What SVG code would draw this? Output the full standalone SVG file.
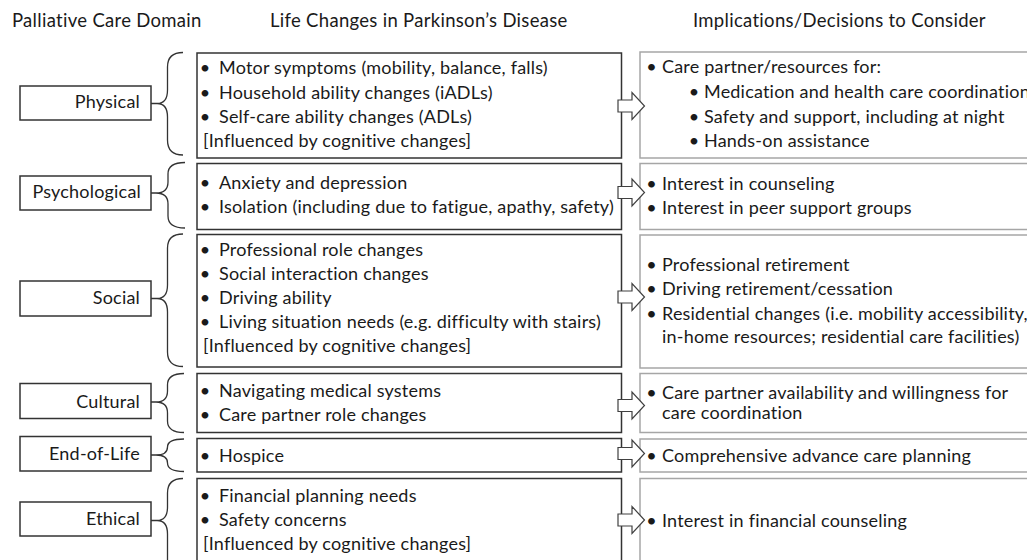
<svg xmlns="http://www.w3.org/2000/svg" width="1027" height="560" viewBox="0 0 1027 560">
<style>
text{font-family:Lato,"Liberation Sans",sans-serif;font-size:18px;letter-spacing:0.2px;fill:#1a1a1a}
.hd{font-size:18.5px;letter-spacing:0.3px}
.lbl{text-anchor:end}
.b{text-anchor:middle;letter-spacing:0}
.lbox{fill:#fff;stroke:#333;stroke-width:1.5}
.mbox{fill:#fff;stroke:#333;stroke-width:1.5}
.rbox{fill:#fff;stroke:#a6a6a6;stroke-width:1.5}
.brace{fill:none;stroke:#333;stroke-width:1.3}
.arr{fill:#fff;stroke:#404040;stroke-width:1.2}
</style>
<rect width="1027" height="560" fill="#fff"/>
<g id="headers">
<text class="hd" x="12" y="27">Palliative Care Domain</text>
<text class="hd" x="270" y="27">Life Changes in Parkinson’s Disease</text>
<text class="hd" x="693" y="27">Implications/Decisions to Consider</text>
</g>
<g id="physical">
<rect class="lbox" x="20" y="86" width="131" height="34"/>
<text class="lbl" x="140" y="108">Physical</text>
<rect class="mbox" x="197" y="53" width="424.5" height="105"/>
<text class="b" x="205" y="74">•</text><text x="219" y="74">Motor symptoms (mobility, balance, falls)</text>
<text class="b" x="205" y="98.5">•</text><text x="219" y="98.5">Household ability changes (iADLs)</text>
<text class="b" x="205" y="123">•</text><text x="219" y="123">Self-care ability changes (ADLs)</text>
<text x="203" y="147">[Influenced by cognitive changes]</text>
<rect class="rbox" x="640" y="52" width="400" height="106"/>
<text class="b" x="651.5" y="73">•</text><text x="662" y="73">Care partner/resources for:</text>
<text class="b" x="694" y="98">•</text><text x="704" y="98">Medication and health care coordination</text>
<text class="b" x="694" y="122.5">•</text><text x="704" y="122.5">Safety and support, including at night</text>
<text class="b" x="694" y="146.5">•</text><text x="704" y="146.5">Hands-on assistance</text>
</g>
<g id="psychological">
<rect class="lbox" x="20" y="176" width="131" height="34"/>
<text class="lbl" x="141" y="198">Psychological</text>
<rect class="mbox" x="197" y="163.5" width="424.5" height="66"/>
<text class="b" x="205" y="189">•</text><text x="219" y="189">Anxiety and depression</text>
<text class="b" x="205" y="213">•</text><text x="219" y="213">Isolation (including due to fatigue, apathy, safety)</text>
<rect class="rbox" x="640" y="163.5" width="400" height="66"/>
<text class="b" x="651.5" y="190">•</text><text x="662" y="190">Interest in counseling</text>
<text class="b" x="651.5" y="214">•</text><text x="662" y="214">Interest in peer support groups</text>
</g>
<g id="social">
<rect class="lbox" x="20" y="281" width="131" height="35"/>
<text class="lbl" x="140" y="304">Social</text>
<rect class="mbox" x="197" y="234.5" width="424.5" height="132.5"/>
<text class="b" x="205" y="256">•</text><text x="219" y="256">Professional role changes</text>
<text class="b" x="205" y="280">•</text><text x="219" y="280">Social interaction changes</text>
<text class="b" x="205" y="304">•</text><text x="219" y="304">Driving ability</text>
<text class="b" x="205" y="328">•</text><text x="219" y="328">Living situation needs (e.g. difficulty with stairs)</text>
<text x="203" y="352">[Influenced by cognitive changes]</text>
<rect class="rbox" x="640" y="235" width="400" height="133"/>
<text class="b" x="651.5" y="271">•</text><text x="662" y="271">Professional retirement</text>
<text class="b" x="651.5" y="295">•</text><text x="662" y="295">Driving retirement/cessation</text>
<text class="b" x="651.5" y="319.5">•</text><text x="662" y="319.5">Residential changes (i.e. mobility accessibility,</text>
<text x="662" y="342.5">in-home resources; residential care facilities)</text>
</g>
<g id="cultural">
<rect class="lbox" x="20" y="383.5" width="131" height="35"/>
<text class="lbl" x="140" y="407.5">Cultural</text>
<rect class="mbox" x="197" y="373.5" width="424.5" height="59"/>
<text class="b" x="205" y="396.5">•</text><text x="219" y="396.5">Navigating medical systems</text>
<text class="b" x="205" y="421">•</text><text x="219" y="421">Care partner role changes</text>
<rect class="rbox" x="640" y="373.5" width="400" height="59"/>
<text class="b" x="651.5" y="398.5">•</text><text x="662" y="398.5">Care partner availability and willingness for</text>
<text x="662" y="419">care coordination</text>
</g>
<g id="end-of-life">
<rect class="lbox" x="20" y="436.5" width="131" height="34.5"/>
<text class="lbl" x="140" y="459.5">End-of-Life</text>
<rect class="mbox" x="197" y="438.5" width="424.5" height="33.5"/>
<text class="b" x="205" y="462">•</text><text x="219" y="462">Hospice</text>
<rect class="rbox" x="640" y="439" width="400" height="33"/>
<text class="b" x="651.5" y="462">•</text><text x="662" y="462">Comprehensive advance care planning</text>
</g>
<g id="ethical">
<rect class="lbox" x="20" y="502" width="131" height="34"/>
<text class="lbl" x="140" y="524.5">Ethical</text>
<rect class="mbox" x="197" y="478.5" width="424.5" height="100"/>
<text class="b" x="205" y="502">•</text><text x="219" y="502">Financial planning needs</text>
<text class="b" x="205" y="526">•</text><text x="219" y="526">Safety concerns</text>
<text x="203" y="550">[Influenced by cognitive changes]</text>
<rect class="rbox" x="640" y="478.5" width="400" height="100"/>
<text class="b" x="651.5" y="527">•</text><text x="662" y="527">Interest in financial counseling</text>
</g>
<g id="connectors">
<path class="brace" d="M151,103.5H157M183,52.5Q167.5,52.5 167.5,67V90Q167.5,103.5 157,103.5Q167.5,103.5 167.5,117V140Q167.5,155 183,155"/>
<path class="brace" d="M151,193H156M185,162.5Q168,162.5 168,174V182Q168,193 156,193Q168,193 168,204V216Q168,228 185,228"/>
<path class="brace" d="M151,298.5H157M183,234Q167.5,234 167.5,248V285Q167.5,298.5 157,298.5Q167.5,298.5 167.5,312V352Q167.5,366.5 183,366.5"/>
<path class="brace" d="M151,402H156M184,373.5Q167.5,373.5 167.5,385V391Q167.5,402 156,402Q167.5,402 167.5,413V421Q167.5,432.5 184,432.5"/>
<path class="brace" d="M151,455H156M184,439Q167.5,439 167.5,447Q167.5,455 156,455Q167.5,455 167.5,463Q167.5,471.5 184,471.5"/>
<path class="brace" d="M151,520.5H157M183,478.5Q167.5,478.5 167.5,493V507Q167.5,520.5 157,520.5Q167.5,520.5 167.5,534V560"/>
<path class="arr" d="M618,100H632V92.5L644.5,106L632,119.5V112H618Z"/>
<path class="arr" d="M618,186.5H632V179L644.5,192.5L632,206V198.5H618Z"/>
<path class="arr" d="M618,291H632V283.5L644.5,297L632,310.5V303H618Z"/>
<path class="arr" d="M618,399.5H632V392L644.5,405.5L632,419V411.5H618Z"/>
<path class="arr" d="M618,447.5H632V440L644.5,453.5L632,467V459.5H618Z"/>
<path class="arr" d="M618,514H632V506.5L644.5,520L632,533.5V526H618Z"/>
</g>
</svg>
